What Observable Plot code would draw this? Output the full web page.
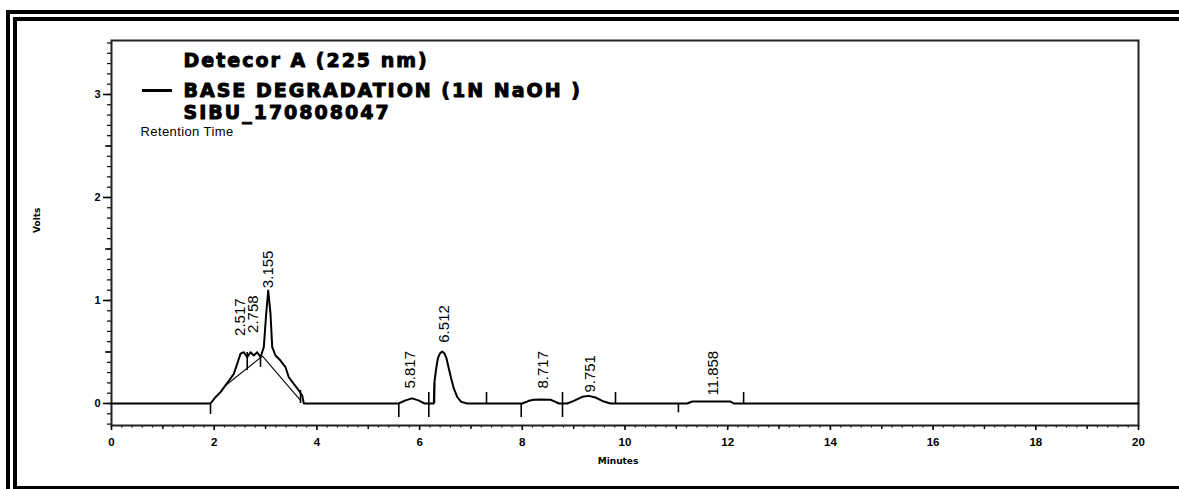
<!DOCTYPE html>
<html><head><meta charset="utf-8">
<script src="https://cdn.jsdelivr.net/npm/d3@7"></script>
<script src="https://cdn.jsdelivr.net/npm/@observablehq/plot@0.6"></script>
<style>
html,body{margin:0;padding:0;background:#fff;overflow:hidden;width:1179px;height:489px;}
#wrap{position:relative;width:1179px;height:489px;overflow:hidden;}
#outer{position:absolute;left:6px;top:10px;width:1220px;height:487px;border:11px double #000;box-sizing:border-box;pointer-events:none;}
#swatch{position:absolute;left:142px;top:88.5px;width:30px;height:3px;background:#000;}
</style></head>
<body><div id="wrap"><div id="chart"></div><div id="swatch"></div><div id="outer"></div></div>
<script>
// Chromatogram trace (minutes, volts)
const traceT = [0, 1.928, 2.025, 2.123, 2.220, 2.317, 2.382, 2.448, 2.512, 2.576, 2.643, 2.707, 2.771, 2.837, 2.902, 2.966, 3.013, 3.052, 3.096, 3.130, 3.194, 3.291, 3.389, 3.453, 3.550, 3.648, 3.714, 3.745,
  5.589, 5.725, 5.850, 5.978, 6.095,
  6.276, 6.290, 6.323, 6.355, 6.394, 6.440, 6.485, 6.524, 6.569, 6.615, 6.666, 6.732, 6.810, 6.927,
  7.998, 8.127, 8.224, 8.354, 8.549, 8.647, 8.711,
  8.874, 9.003, 9.167, 9.295, 9.425, 9.587, 9.718,
  11.211, 11.309, 12.054, 12.119,
  20];
const traceV = [0, 0, 0.061, 0.110, 0.175, 0.243, 0.288, 0.385, 0.483, 0.498, 0.450, 0.498, 0.466, 0.498, 0.450, 0.547, 0.874, 1.097, 0.874, 0.547, 0.466, 0.417, 0.352, 0.255, 0.191, 0.126, 0.078, 0,
  0, 0.03, 0.05, 0.03, 0,
  0, 0.21, 0.34, 0.437, 0.485, 0.505, 0.485, 0.437, 0.34, 0.243, 0.146, 0.065, 0.016, 0,
  0, 0.026, 0.036, 0.039, 0.036, 0.016, 0,
  0, 0.026, 0.065, 0.074, 0.058, 0.019, 0,
  0, 0.019, 0.019, 0,
  0];

// Integration baseline under the first peak cluster
const baseT = [2.22, 2.94, 3.68];
const baseV = [0.175, 0.46, 0.03];

// Integration markers
const markT = [1.928, 2.643, 2.902, 3.681, 5.595, 6.179, 6.290, 7.303, 7.979, 8.783, 9.815, 11.04, 12.31];
const markTop = [0, 0.495, 0.447, 0.126, 0, 0.107, 0.194, 0.107, 0, 0.107, 0.107, 0, 0.107];
const markBottom = [-0.107, 0.32, 0.35, 0, -0.136, -0.136, 0, 0, -0.136, -0.136, 0, -0.09, 0];

// Peak labels (retention times)
const peakLabels = ["2.517", "2.758", "3.155", "5.817", "6.512", "8.717", "9.751", "11.858"];
const peakLabelT = [2.51, 2.75, 3.06, 5.82, 6.47, 8.41, 9.33, 11.72];
const peakLabelV = [0.656, 0.685, 1.12, 0.145, 0.59, 0.145, 0.106, 0.077];

// Legend / title text
const titleLines = ["Detecor A (225 nm)", "BASE DEGRADATION (1N NaOH )", "SIBU_170808047"];
const subtitle = "Retention Time";
const yLabel = "Volts";
const xLabel = "Minutes";

// Axes
const xTicks = [0, 2, 4, 6, 8, 10, 12, 14, 16, 18, 20];
const yTicks = [0, 1, 2, 3];
const xDomain = [0, 20];
const yDomain = [-0.2136, 3.524];

const trace = traceT.map((t, i) => ({t, v: traceV[i]}));
const base = baseT.map((t, i) => ({t, v: baseV[i]}));
const marks = markT.map((t, i) => ({t, y1: markTop[i], y2: markBottom[i]}));
const peaks = peakLabels.map((label, i) => ({label, t: peakLabelT[i], v: peakLabelV[i]}));

const xMinor = d3.range(0, 101).map(i => i / 5);
const xMid = d3.range(1, 20, 2);
const yMinor = d3.range(-2, 36).map(i => i / 10);
const yMid = [0.5, 1.5, 2.5];

const titleDy = [20.9, 50.9, 72.9];
const titleMarks = titleLines.map((line, i) => Plot.text([line], {
  text: d => d, frameAnchor: "top-left", dx: 72, dy: titleDy[i], lineAnchor: "middle",
  textAnchor: "start", fontSize: 19, fontWeight: "bold",
  fontFamily: "DejaVu Sans", fill: "#000", stroke: "#000", strokeWidth: 1
}));

const plot = Plot.plot({
  width: 1179, height: 489,
  marginLeft: 111, marginRight: 41, marginTop: 40, marginBottom: 64,
  style: {fontFamily: "Liberation Sans, Arial, sans-serif", background: "transparent", color: "#000"},
  x: {domain: xDomain, label: null},
  y: {domain: yDomain, label: null},
  marks: [
    Plot.axisY({ticks: yMinor, tickSize: 4, tickFormat: () => "", strokeWidth: 1.2}),
    Plot.axisY({ticks: yMid, tickSize: 6, tickFormat: () => "", strokeWidth: 1.4}),
    Plot.axisY({ticks: yTicks, tickSize: 8, tickPadding: 3, tickFormat: d => String(d), fontSize: 11, fontWeight: "bold", strokeWidth: 1.6, label: null}),
    Plot.axisX({ticks: xMinor, tickSize: 2.5, tickFormat: () => "", strokeWidth: 1.2}),
    Plot.axisX({ticks: xMid, tickSize: 4, tickFormat: () => "", strokeWidth: 1.4}),
    Plot.axisX({ticks: xTicks, tickSize: 5, tickPadding: 7, tickFormat: d => String(d), fontSize: 11.5, fontWeight: "bold", strokeWidth: 1.6, label: null}),
    Plot.frame({stroke: "#222", strokeWidth: 2}),
    Plot.line(base, {x: "t", y: "v", stroke: "#111", strokeWidth: 1.2}),
    Plot.line(trace, {x: "t", y: "v", stroke: "#000", strokeWidth: 2}),
    Plot.ruleX(marks, {x: "t", y1: "y1", y2: "y2", stroke: "#000", strokeWidth: 1.6}),
    Plot.text(peaks, {x: "t", y: "v", text: "label", rotate: -90, textAnchor: "start", fontSize: 15, fill: "#000"}),
    Plot.text([yLabel], {text: d => d, frameAnchor: "left", dx: -74, rotate: -90, fontSize: 9, fontWeight: "bold", fontFamily: "DejaVu Sans"}),
    Plot.text([xLabel], {text: d => d, frameAnchor: "bottom", lineAnchor: "middle", dx: -7, dy: 36, fontSize: 9, fontWeight: "bold", fontFamily: "DejaVu Sans"}),
    ...titleMarks,
    Plot.text([subtitle], {text: d => d, frameAnchor: "top-left", lineAnchor: "middle", dx: 29, dy: 91.8, textAnchor: "start", fontSize: 13, fill: "#000"})
  ]
});
document.getElementById("chart").appendChild(plot);
// letter spacing for title lines and subtitle
d3.select(plot).selectAll("text").each(function() {
  const s = this.textContent;
  if (titleLines.includes(s)) this.style.letterSpacing = "2px";
  else if (s === subtitle) this.style.letterSpacing = "0.4px";
});
</script></body></html>
